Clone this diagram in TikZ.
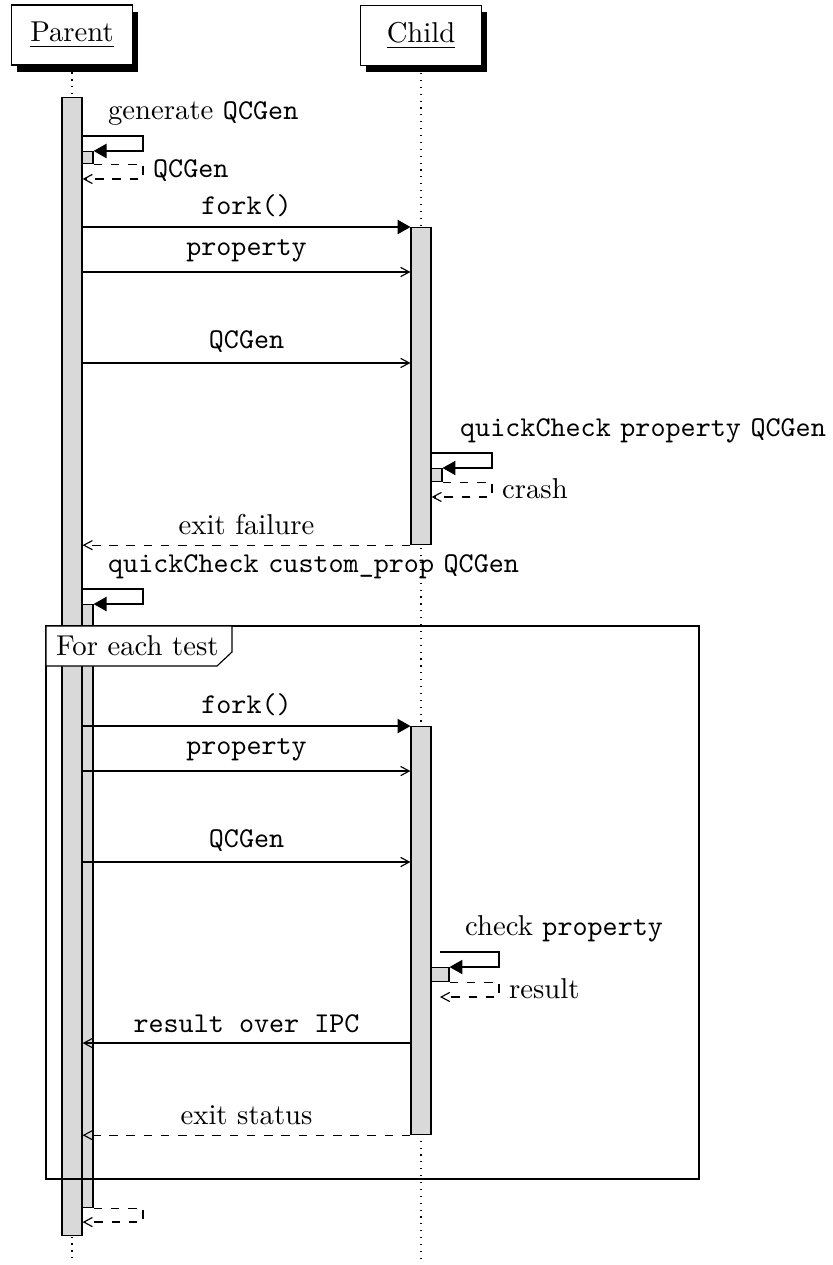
\documentclass[tikz,border=0pt]{standalone}
\usepackage{tikz}
\usetikzlibrary{arrows.meta,shadows}

\tikzset{
  thread/.style={draw, fill=white, minimum width=1.48cm, minimum height=0.735cm, inner sep=0pt,
    drop shadow={shadow xshift=2pt, shadow yshift=-2.4pt, fill=black, opacity=1}},
  bar/.style={draw, fill=gray!30, minimum width=0.245cm, inner sep=0pt, anchor=north},
  subbar/.style={bar, minimum width=0.135cm},
  lifeline/.style={dotted},
  call/.style={-{Triangle[length=4.5pt,width=5pt]}},
  mess/.style={-{Straight Barb[length=3pt,width=3.2pt]}},
  ret/.style={mess, dashed}
}

\begin{document}
\begin{tikzpicture}
    \useasboundingbox (0,0) rectangle (10.189,-15.491);

    % threads
    \node[thread] (parent) at (0.882,-0.429) {\underline{Parent}};
    \node[thread] (child) at (5.156,-0.435) {\underline{Child}};
    \coordinate (pend) at (0.882,-15.454);
    \coordinate (cend) at (5.156,-15.454);
    \draw[lifeline] (parent) -- (pend);
    \draw[lifeline] (child) -- (cend);

    % activation bars
    \node[bar, minimum height=13.936cm] (pbar) at (0.882,-1.188) {};
    \node[subbar, minimum height=0.147cm] (pgen) at (1.072,-1.849) {};
    \node[subbar, minimum height=7.384cm] (pcheck) at (1.072,-7.397) {};
    \node[bar, minimum height=3.882cm] (cbar1) at (5.156,-2.780) {};
    \node[subbar, minimum height=0.159cm] (cqc) at (5.345,-5.731) {};
    \node[bar, minimum height=4.996cm] (cbar2) at (5.156,-8.891) {};
    \node[subbar, minimum width=0.22cm, minimum height=0.171cm] (ccheck) at (5.388,-11.842) {};

    % loop frame
    \draw (0.563,-7.666) rectangle (8.560,-14.438);
    \filldraw[fill=white] (0.563,-7.666) -- (2.841,-7.666) -- (2.841,-7.984) -- (2.657,-8.156) -- (0.563,-8.156) -- cycle;
    \node[anchor=west] (loop) at (0.563,-7.905) {For each test};

    % generate QCGen
    \draw[call] (pbar.east |- 0,-1.665) -| (1.751,-1.849) -- (pgen.north east);
    \node[anchor=south west] (lgen) at (1.20,-1.665) {generate \texttt{QCGen}};
    \draw[ret] (pgen.south east) -| (1.751,-2.192) -- (pbar.east |- 0,-2.192);
    \node[anchor=west] (rgen) at (1.751,-2.094) {\texttt{QCGen}};

    % first fork
    \draw[call] (pbar.east |- cbar1.north) -- (cbar1.north west) node[midway, above] {\texttt{fork()}};
    \draw[mess] (pbar.east |- 0,-3.331) -- (cbar1.west |- 0,-3.331) node[midway, above] {\texttt{property}};
    \draw[mess] (pbar.east |- 0,-4.445) -- (cbar1.west |- 0,-4.445) node[midway, above] {\texttt{QCGen}};

    \draw[call] (cbar1.east |- 0,-5.547) -| (6.025,-5.731) -- (cqc.north east);
    \node[anchor=south west] (lqc) at (5.511,-5.547) {\texttt{quickCheck} \texttt{property} \texttt{QCGen}};
    \draw[ret] (cqc.south east) -| (6.025,-6.086) -- (cbar1.east |- 0,-6.086);
    \node[anchor=west] (rqc) at (6.025,-5.988) {crash};

    \draw[ret] (cbar1.south west) -- (pbar.east |- cbar1.south) node[midway, above] {exit failure};

    % custom_prop
    \draw[call] (pbar.east |- 0,-7.213) -| (1.751,-7.397) -- (pcheck.north east);
    \node[anchor=south west] (lcheck) at (1.20,-7.213) {\texttt{quickCheck} \texttt{custom\_prop} \texttt{QCGen}};

    % each test
    \draw[call] (pbar.east |- cbar2.north) -- (cbar2.north west) node[midway, above] {\texttt{fork()}};
    \draw[mess] (pbar.east |- 0,-9.442) -- (cbar2.west |- 0,-9.442) node[midway, above] {\texttt{property}};
    \draw[mess] (pbar.east |- 0,-10.556) -- (cbar2.west |- 0,-10.556) node[midway, above] {\texttt{QCGen}};

    \draw[call] (ccheck.north |- 0,-11.658) -| (6.111,-11.842) -- (ccheck.north east);
    \node[anchor=south west] (lprop) at (5.572,-11.658) {check \texttt{property}};
    \draw[ret] (ccheck.south east) -| (6.111,-12.209) -- (ccheck.south |- 0,-12.209);
    \node[anchor=west] (rprop) at (6.111,-12.111) {result};

    \draw[mess] (cbar2.west |- 0,-12.773) -- (pbar.east |- 0,-12.773) node[midway, above] {\texttt{result over IPC}};
    \draw[ret] (cbar2.south west) -- (pbar.east |- cbar2.south) node[midway, above] {exit status};

    \draw[ret] (pcheck.south east) -| (1.751,-14.965) -- (pbar.east |- 0,-14.965);
\end{tikzpicture}
\end{document}
